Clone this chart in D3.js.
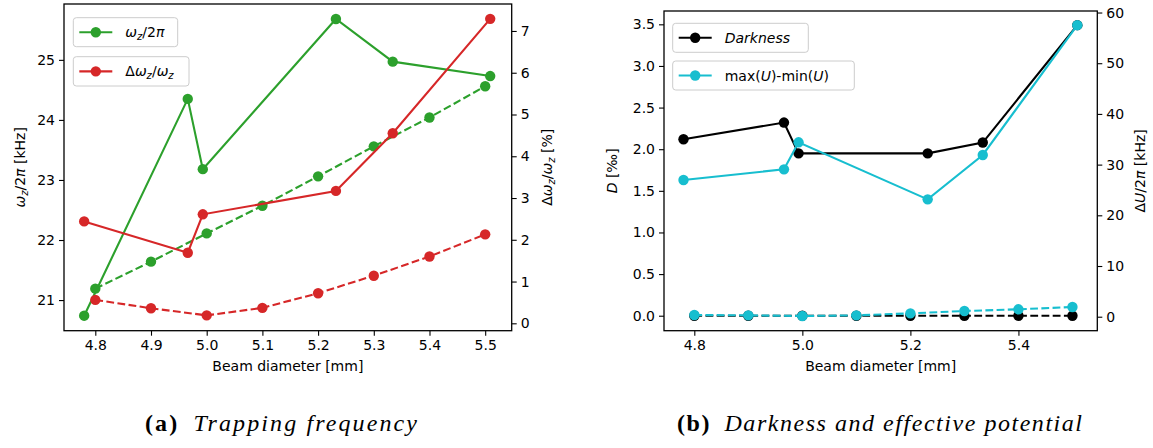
<!DOCTYPE html>
<html><head><meta charset="utf-8">
<script src="https://cdn.jsdelivr.net/npm/d3@7"></script>
<style>
body{margin:0;background:#fff}
</style>
</head><body>
<svg id="c" width="1153" height="448" font-family="DejaVu Sans"></svg>
<script>
// ---------- data ----------
const xMeas = [4.780, 4.966, 4.993, 5.232, 5.334, 5.509];
const freqMeas = [20.74, 24.35, 23.18, 25.68, 24.97, 24.73];
const dwMeas = [2.44, 1.69, 2.61, 3.17, 4.55, 7.29];
const xSim = [4.8, 4.9, 5.0, 5.1, 5.2, 5.3, 5.4, 5.5];
const freqSim = [21.19, 21.64, 22.11, 22.57, 23.06, 23.56, 24.04, 24.56];
const dwSim = [0.56, 0.36, 0.19, 0.37, 0.72, 1.14, 1.60, 2.13];
const darkMeas = [2.12, 2.32, 1.95, 1.95, 2.08, 3.49];
const dUMeas = [26.96, 29.07, 34.4, 23.15, 31.9, 57.5];
const darkSim = [0, 0, 0, 0, 0, 0, 0, 0];
const dUSim = [0.33, 0.27, 0.14, 0.27, 0.66, 1.12, 1.46, 1.91];

const xTicksA = [4.8, 4.9, 5.0, 5.1, 5.2, 5.3, 5.4, 5.5];
const yTicksAL = [21, 22, 23, 24, 25];
const yTicksAR = [0, 1, 2, 3, 4, 5, 6, 7];
const xTicksB = [4.8, 5.0, 5.2, 5.4];
const yTicksBL = [0, 0.5, 1.0, 1.5, 2.0, 2.5, 3.0, 3.5];
const yTicksBR = [0, 10, 20, 30, 40, 50, 60];

const GREEN = "#2ca02c", RED = "#d62728", CYAN = "#17becf", BLACK = "#000000";

const svg = d3.select("#c");
svg.append("rect").attr("width",1153).attr("height",448).attr("fill","#fff");

// ---------- scales ----------
const A = {l:64, r:511.7, t:4, b:330.7};
const B = {l:664, r:1097.3, t:11, b:330.7};
const xA = d3.scaleLinear().domain([4.7438, 5.5476]).range([A.l, A.r]);
const yAL = d3.scaleLinear().domain([20.49, 25.93]).range([A.b, A.t]);
const yAR = d3.scaleLinear().domain([-0.177, 7.646]).range([A.b, A.t]);
const xB = d3.scaleLinear().domain([4.7439, 5.546]).range([B.l, B.r]);
const yBL = d3.scaleLinear().domain([-0.18, 3.66]).range([B.b, B.t]);
const yBR = d3.scaleLinear().domain([-2.76, 60.3]).range([B.b, B.t]);

const FS = 14;
function styleAxis(g){
  g.selectAll("path.domain").remove();
  g.selectAll(".tick line").attr("stroke","#000").attr("stroke-width",1.1);
  g.selectAll(".tick text").style("font-size",FS+"px").style("font-family","DejaVu Sans").attr("fill","#000");
}
function axes(P, x, yl, yr, xt, ylt, yrt, xf, ylf, yrf){
  svg.append("g").attr("transform",`translate(0,${P.b})`)
    .call(d3.axisBottom(x).tickValues(xt).tickFormat(d3.format(xf)).tickSize(5).tickPadding(4)).call(styleAxis);
  svg.append("g").attr("transform",`translate(${P.l},0)`)
    .call(d3.axisLeft(yl).tickValues(ylt).tickFormat(d3.format(ylf)).tickSize(5).tickPadding(4)).call(styleAxis);
  svg.append("g").attr("transform",`translate(${P.r},0)`)
    .call(d3.axisRight(yr).tickValues(yrt).tickFormat(d3.format(yrf)).tickSize(5).tickPadding(4)).call(styleAxis);
}
function frame(P){
  svg.append("rect").attr("x",P.l).attr("y",P.t).attr("width",P.r-P.l).attr("height",P.b-P.t)
    .attr("fill","none").attr("stroke","#000").attr("stroke-width",1.3);
}
function series(xs, ys, x, y, color, dashed){
  const g = svg.append("g");
  const pts = xs.map((d,i)=>[x(d), y(ys[i])]);
  g.append("path").attr("d", d3.line()(pts)).attr("fill","none").attr("stroke",color)
    .attr("stroke-width",2.1).attr("stroke-dasharray", dashed ? "7.8,3.4" : null);
  g.selectAll("circle").data(pts).join("circle").attr("cx",d=>d[0]).attr("cy",d=>d[1])
    .attr("r",5.2).attr("fill",color);
}
// rich text: segments [text, italic, sub]
function rich(sel, segs, fs){
  let shift = 0;
  segs.forEach(([t, it, sub])=>{
    const ts = sel.append("tspan").text(t)
      .style("font-style", it ? "italic" : "normal")
      .style("font-size", (sub ? fs*0.72 : fs)+"px");
    if (sub) { ts.attr("dy", fs*0.22 - shift); shift = fs*0.22; }
    else { ts.attr("dy", -shift); shift = 0; }
  });
}
function ylabel(x, y, segs){
  const t = svg.append("text").attr("transform",`translate(${x},${y}) rotate(-90)`)
    .attr("text-anchor","middle").style("font-size",FS+"px");
  rich(t, segs, FS);
}
function legend(x, y, w, h, color, segs){
  const g = svg.append("g");
  g.append("rect").attr("x",x).attr("y",y).attr("width",w).attr("height",h).attr("rx",3)
    .attr("fill","#fff").attr("fill-opacity",0.8).attr("stroke","#cccccc").attr("stroke-width",1);
  const cy = y + h/2;
  g.append("line").attr("x1",x+6).attr("x2",x+39).attr("y1",cy).attr("y2",cy).attr("stroke",color).attr("stroke-width",2.1);
  g.append("circle").attr("cx",x+22.5).attr("cy",cy).attr("r",5.2).attr("fill",color);
  const t = g.append("text").attr("x",x+52).attr("y",cy+5).style("font-size",FS+"px");
  rich(t, segs, FS);
}

// ---------- panel A ----------
axes(A, xA, yAL, yAR, xTicksA, yTicksAL, yTicksAR, ".1f", "d", "d");
series(xMeas, freqMeas, xA, yAL, GREEN, false);
series(xSim, freqSim, xA, yAL, GREEN, true);
series(xMeas, dwMeas, xA, yAR, RED, false);
series(xSim, dwSim, xA, yAR, RED, true);
frame(A);
svg.append("text").attr("x",(A.l+A.r)/2).attr("y",371).attr("text-anchor","middle").style("font-size",FS+"px").text("Beam diameter [mm]");
ylabel(25, (A.t+A.b)/2, [["ω",true],["z",true,true],["/2",false],["π",true],[" [kHz]",false]]);
ylabel(552, (A.t+A.b)/2, [["Δ",false],["ω",true],["z",true,true],["/",false],["ω",true],["z",true,true],[" [%]",false]]);
legend(73.3, 17.7, 104.4, 29, GREEN, [["ω",true],["z",true,true],["/2",false],["π",true]]);
legend(73.3, 56.7, 115.7, 29.3, RED, [["Δ",false],["ω",true],["z",true,true],["/",false],["ω",true],["z",true,true]]);

// ---------- panel B ----------
axes(B, xB, yBL, yBR, xTicksB, yTicksBL, yTicksBR, ".1f", ".1f", "d");
series(xMeas, darkMeas, xB, yBL, BLACK, false);
series(xSim, darkSim, xB, yBL, BLACK, true);
series(xMeas, dUMeas, xB, yBR, CYAN, false);
series(xSim, dUSim, xB, yBR, CYAN, true);
frame(B);
svg.append("text").attr("x",(B.l+B.r)/2).attr("y",371).attr("text-anchor","middle").style("font-size",FS+"px").text("Beam diameter [mm]");
ylabel(617, (B.t+B.b)/2, [["D",true],[" [‰]",false]]);
ylabel(1145, (B.t+B.b)/2, [["Δ",false],["U",true],["/2",false],["π",true],[" [kHz]",false]]);
legend(672.7, 23.3, 135.6, 29, BLACK, [["Darkness",true]]);
legend(672.7, 61, 181.6, 29, CYAN, [["max(",false],["U",true],[")-min(",false],["U",true],[")",false]]);

// ---------- captions ----------
function caption(x0, len, label, txt){
  const t = svg.append("text").attr("x",x0).attr("y",431)
    .attr("textLength", len).attr("lengthAdjust","spacing")
    .style("font-family","'Liberation Serif', serif").style("font-size","24px");
  t.append("tspan").style("font-weight","bold").text(label);
  t.append("tspan").style("font-style","italic").text("\u2002" + txt);
}
caption(145, 272, "(a)", "Trapping frequency");
caption(677, 405, "(b)", "Darkness and effective potential");
</script>
</body></html>
